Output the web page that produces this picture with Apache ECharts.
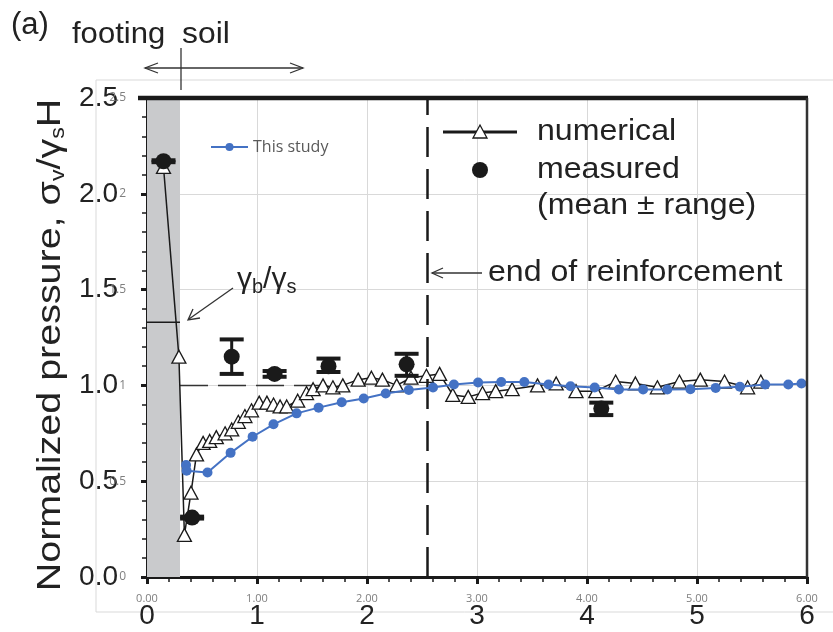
<!DOCTYPE html>
<html>
<head>
<meta charset="utf-8">
<script src="https://cdn.jsdelivr.net/npm/echarts@6/dist/echarts.min.js"></script>
<style>
html, body { margin: 0; padding: 0; background: #fff; }
#main { width: 833px; height: 632px; }
</style>
</head>
<body>
<div id="main"></div>
<script>
// axis ranges
var xMax = 6, xStep = 1;
var yMax = 2.5, yStep = 0.5;

// this study (blue)
var studyX = [0.355, 0.36, 0.55, 0.76, 0.96, 1.15, 1.36, 1.56, 1.77, 1.97, 2.17, 2.38, 2.6, 2.79, 3.01, 3.22, 3.43, 3.65, 3.85, 4.07, 4.29, 4.51, 4.73, 4.94, 5.17, 5.39, 5.62, 5.83, 5.95];
var studyY = [0.585, 0.555, 0.545, 0.648, 0.732, 0.797, 0.854, 0.884, 0.912, 0.932, 0.958, 0.976, 0.989, 1.005, 1.015, 1.018, 1.018, 1.005, 0.996, 0.989, 0.979, 0.979, 0.979, 0.98, 0.987, 0.993, 1.005, 1.005, 1.01];

// numerical (triangles)
var numX = [0.15, 0.29, 0.34, 0.40, 0.45, 0.51, 0.57, 0.63, 0.71, 0.77, 0.83, 0.89, 0.95, 1.02, 1.09, 1.15, 1.21, 1.27, 1.37, 1.45, 1.51, 1.60, 1.69, 1.78, 1.92, 2.04, 2.14, 2.27, 2.40, 2.54, 2.66, 2.78, 2.92, 3.05, 3.17, 3.32, 3.55, 3.72, 3.90, 4.08, 4.26, 4.44, 4.64, 4.84, 5.03, 5.25, 5.46, 5.58];
var numY = [2.14, 1.15, 0.22, 0.44, 0.64, 0.70, 0.71, 0.73, 0.75, 0.77, 0.81, 0.84, 0.87, 0.91, 0.91, 0.90, 0.89, 0.89, 0.92, 0.96, 0.98, 1.00, 0.99, 1.00, 1.03, 1.04, 1.03, 1.00, 1.04, 1.05, 1.06, 0.95, 0.94, 0.96, 0.97, 0.98, 1.00, 1.01, 0.97, 0.97, 1.02, 1.01, 0.99, 1.02, 1.03, 1.02, 0.99, 1.02];

// measured (mean ± range)
var measX = [0.15, 0.41, 0.77, 1.16, 1.65, 2.36, 4.13];
var measY = [2.17, 0.31, 1.15, 1.06, 1.10, 1.11, 0.88];
var measLo = [2.165, 0.305, 1.06, 1.045, 1.07, 1.05, 0.845];
var measHi = [2.175, 0.315, 1.24, 1.075, 1.14, 1.165, 0.91];

// reference lines
var footingEdge = 0.3;
var gammaRatio = 1.33;
var unitLineX = [0.3, 1.6];
var reinfEnd = 2.55;

function pairs(xs, ys) {
  return xs.map(function (x, i) { return [x, ys[i]]; });
}

var chart = echarts.init(document.getElementById('main'));
var ink = '#1a1a1a';
var sans = 'Liberation Sans, Arial, sans-serif';

var option = {
  backgroundColor: '#ffffff',
  animation: false,
  grid: { left: 147, right: 26, top: 98, bottom: 55 },
  legend: {
    data: ['This study'],
    left: 205, top: 134,
    itemWidth: 37, itemHeight: 10,
    textStyle: { fontSize: 16, color: '#595959', fontFamily: 'Open Sans' }
  },
  xAxis: [{
    type: 'value', min: 0, max: xMax, interval: xStep,
    axisLine: { lineStyle: { color: ink, width: 3 } },
    axisTick: { length: 7, lineStyle: { color: ink, width: 3 } },
    minorTick: { show: true, splitNumber: 5, length: 5, lineStyle: { color: ink, width: 1.5 } },
    axisLabel: { fontSize: 28, color: '#222', fontFamily: sans, margin: 25 },
    splitLine: { lineStyle: { color: '#d9d9d9', width: 1 } }
  }, {
    type: 'value', min: 0, max: xMax, interval: xStep, position: 'bottom',
    axisLine: { show: false }, axisTick: { show: false },
    axisLabel: { fontSize: 11, color: '#7f7f7f', fontFamily: 'Open Sans', margin: 16,
      formatter: function (v) { return v.toFixed(2); } },
    splitLine: { show: false }
  }],
  yAxis: [{
    type: 'value', min: 0, max: yMax, interval: yStep,
    axisLine: { show: true, lineStyle: { color: ink, width: 3 } },
    axisTick: { show: true, length: 6, lineStyle: { color: ink, width: 3 } },
    minorTick: { show: true, splitNumber: 5, length: 5, lineStyle: { color: ink, width: 1.5 } },
    axisLabel: { fontSize: 28, color: '#222', fontFamily: sans, margin: 29,
      formatter: function (v) { return v.toFixed(1); } },
    splitLine: { lineStyle: { color: '#d9d9d9', width: 1 } }
  }, {
    type: 'value', min: 0, max: yMax, interval: yStep, position: 'left',
    axisLine: { show: false }, axisTick: { show: false },
    axisLabel: { fontSize: 12, color: '#7f7f7f', fontFamily: 'Open Sans', margin: 21 },
    splitLine: { show: false }
  }],
  series: [{
    name: 'footing',
    type: 'line',
    data: pairs([0, footingEdge], [gammaRatio, gammaRatio]),
    symbol: 'none',
    lineStyle: { color: ink, width: 1.5 },
    markArea: {
      silent: true,
      itemStyle: { color: '#c9cacc' },
      data: [[{ xAxis: 0, yAxis: 0 }, { xAxis: footingEdge, yAxis: yMax }]]
    },
    markLine: {
      silent: true, symbol: 'none', label: { show: false },
      lineStyle: { color: ink, width: 2.5, type: [30, 12] },
      data: [{ xAxis: reinfEnd }]
    },
    z: 1
  }, {
    name: 'unity',
    type: 'line',
    data: pairs(unitLineX, [1, 1]),
    symbol: 'none',
    lineStyle: { color: '#333', width: 1.5, type: [28, 10] },
    z: 2
  }, {
    name: 'numerical',
    type: 'line',
    data: pairs(numX, numY),
    symbol: 'triangle', symbolSize: [14, 13],
    itemStyle: { color: '#ffffff', borderColor: ink, borderWidth: 1.3 },
    lineStyle: { color: ink, width: 1.5 },
    z: 3
  }, {
    name: 'range',
    type: 'custom',
    data: measX.map(function (x, i) { return [x, measLo[i], measHi[i]]; }),
    renderItem: function (params, api) {
      var lo = api.coord([api.value(0), api.value(1)]);
      var hi = api.coord([api.value(0), api.value(2)]);
      var w = 12;
      var st = { stroke: ink, lineWidth: 4 };
      return { type: 'group', children: [
        { type: 'line', shape: { x1: lo[0], y1: lo[1], x2: hi[0], y2: hi[1] }, style: { stroke: ink, lineWidth: 3 } },
        { type: 'line', shape: { x1: lo[0] - w, y1: lo[1], x2: lo[0] + w, y2: lo[1] }, style: st },
        { type: 'line', shape: { x1: hi[0] - w, y1: hi[1], x2: hi[0] + w, y2: hi[1] }, style: st }
      ] };
    },
    z: 4
  }, {
    name: 'measured',
    type: 'scatter',
    data: pairs(measX, measY),
    symbol: 'circle', symbolSize: 16,
    itemStyle: { color: ink, opacity: 1 },
    z: 5
  }, {
    name: 'This study',
    type: 'line',
    data: pairs(studyX, studyY),
    symbol: 'circle', symbolSize: 10, showAllSymbol: true,
    itemStyle: { color: '#4472c4' },
    lineStyle: { color: '#4472c4', width: 2 },
    z: 6
  }],
  graphic: [
    // outer chart-area frame
    { type: 'polyline', shape: { points: [[833, 80], [96, 80], [96, 612], [833, 612]] },
      style: { stroke: '#d9d9d9', fill: null, lineWidth: 1 }, z: 0 },
    // top and right borders
    { type: 'line', shape: { x1: 138, y1: 98, x2: 808, y2: 98 }, style: { stroke: ink, lineWidth: 4.5 }, z: 10 },
    { type: 'line', shape: { x1: 807, y1: 98, x2: 807, y2: 577 }, style: { stroke: '#333', lineWidth: 2.5 }, z: 10 },
    // panel label and footing / soil annotation
    { type: 'text', x: 11, y: 25, style: { text: '(a)', font: '31px ' + sans, fill: '#222', verticalAlign: 'middle' }, z: 10 },
    { type: 'text', x: 72, y: 35, scaleX: 1.07, style: { text: 'footing', font: '29px ' + sans, fill: '#222', verticalAlign: 'middle' }, z: 10 },
    { type: 'text', x: 182, y: 35, scaleX: 1.1, style: { text: 'soil', font: '29px ' + sans, fill: '#222', verticalAlign: 'middle' }, z: 10 },
    { type: 'line', shape: { x1: 145, y1: 68, x2: 303, y2: 68 }, style: { stroke: '#333', lineWidth: 1.3 }, z: 10 },
    { type: 'polyline', shape: { points: [[158, 63], [145, 68], [158, 73]] }, style: { stroke: '#333', fill: null, lineWidth: 1.3 }, z: 10 },
    { type: 'polyline', shape: { points: [[290, 63], [303, 68], [290, 73]] }, style: { stroke: '#333', fill: null, lineWidth: 1.3 }, z: 10 },
    { type: 'line', shape: { x1: 181, y1: 48, x2: 181, y2: 90 }, style: { stroke: '#333', lineWidth: 1.3 }, z: 10 },
    // y axis title
    { type: 'text', x: 51, y: 345, rotation: Math.PI / 2, scaleX: 1.16,
      style: {
        text: 'Normalized pressure, σ{s|v}/γ{s|s}H',
        font: '34px ' + sans, fill: '#222', align: 'center', verticalAlign: 'middle',
        rich: { s: { fontSize: 20, fontFamily: sans, fill: '#222', verticalAlign: 'bottom', padding: [12, 0, 0, 0] } }
      }, z: 10 },
    // legend of the original figure
    { type: 'line', shape: { x1: 443, y1: 132, x2: 517, y2: 132 }, style: { stroke: ink, lineWidth: 3 }, z: 10 },
    { type: 'polygon', shape: { points: [[473, 138], [480, 125], [487, 138]] }, style: { stroke: ink, fill: '#fff', lineWidth: 1.3 }, z: 11 },
    { type: 'circle', shape: { cx: 480, cy: 170, r: 8 }, style: { fill: ink }, z: 10 },
    { type: 'text', x: 537, y: 132, scaleX: 1.07, style: { text: 'numerical', font: '30px ' + sans, fill: '#222', verticalAlign: 'middle' }, z: 10 },
    { type: 'text', x: 537, y: 170, scaleX: 1.07, style: { text: 'measured', font: '30px ' + sans, fill: '#222', verticalAlign: 'middle' }, z: 10 },
    { type: 'text', x: 537, y: 206, scaleX: 1.07, style: { text: '(mean ± range)', font: '30px ' + sans, fill: '#222', verticalAlign: 'middle' }, z: 10 },
    // end of reinforcement
    { type: 'text', x: 488, y: 273, scaleX: 1.07, style: { text: 'end of reinforcement', font: '30px ' + sans, fill: '#222', verticalAlign: 'middle' }, z: 10 },
    { type: 'line', shape: { x1: 482, y1: 273, x2: 432, y2: 273 }, style: { stroke: '#333', lineWidth: 1.3 }, z: 10 },
    { type: 'polyline', shape: { points: [[443, 268], [432, 273], [443, 278]] }, style: { stroke: '#333', fill: null, lineWidth: 1.3 }, z: 10 },
    // gamma ratio label
    { type: 'text', x: 237, y: 280,
      style: {
        text: 'γ{s|b}/γ{s|s}', font: '30px ' + sans, fill: '#222', verticalAlign: 'middle',
        rich: { s: { fontSize: 20, fontFamily: sans, fill: '#222', padding: [14, 0, 0, 0] } }
      }, z: 10 },
    { type: 'line', shape: { x1: 233, y1: 288, x2: 189, y2: 319 }, style: { stroke: '#333', lineWidth: 1.3 }, z: 10 },
    { type: 'polyline', shape: { points: [[193, 309], [188, 320], [200, 318]] }, style: { stroke: '#333', fill: null, lineWidth: 1.3 }, z: 10 }
  ]
};

chart.setOption(option);
</script>
</body>
</html>
